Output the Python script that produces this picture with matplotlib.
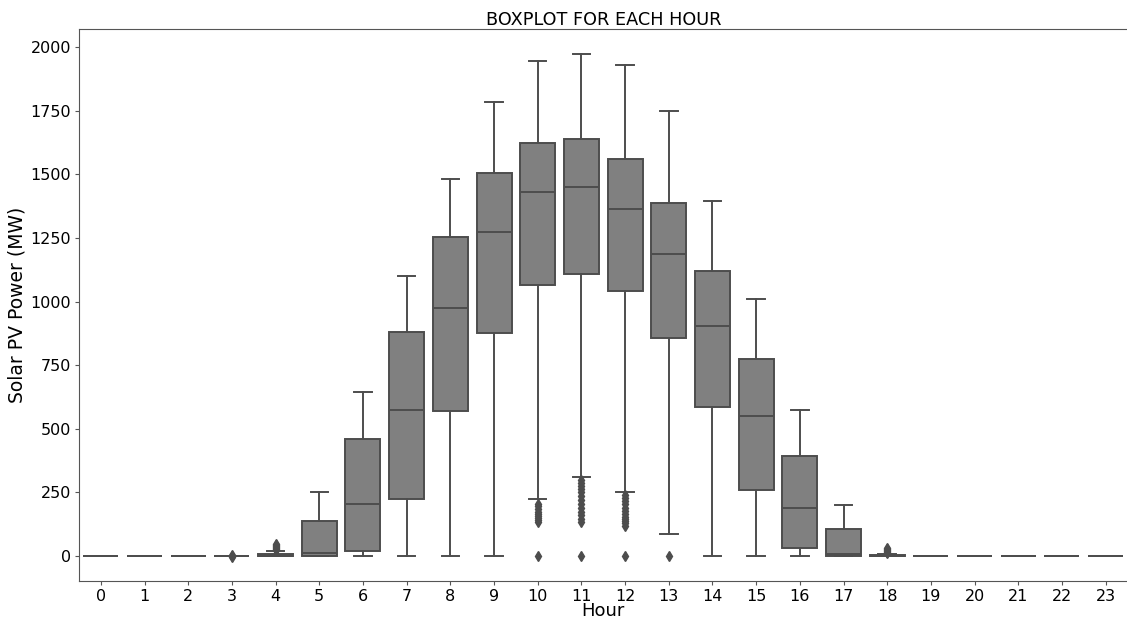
import matplotlib
matplotlib.use("Agg")
import matplotlib.pyplot as plt

hours = list(range(24))
q1 =      [0, 0, 0, 0, 0,   0,   18,  225, 570, 875,  1065, 1110, 1040, 855,  585,  260,  30,  0,   0, 0, 0, 0, 0, 0]
median =  [0, 0, 0, 0, 2,   12,  205, 575, 975, 1275, 1430, 1450, 1365, 1185, 905,  550,  190, 10,  2, 0, 0, 0, 0, 0]
q3 =      [0, 0, 0, 0, 8,   138, 460, 880, 1255, 1505, 1625, 1640, 1562, 1388, 1120, 775, 395, 106, 5, 0, 0, 0, 0, 0]
whis_lo = [0, 0, 0, 0, 0,   0,   0,   0,   0,   0,    224,  310,  251,  86,   0,    0,   0,   0,   0, 0, 0, 0, 0, 0]
whis_hi = [0, 0, 0, 0, 20,  250, 645, 1100, 1480, 1785, 1945, 1972, 1929, 1749, 1395, 1010, 574, 200, 10, 0, 0, 0, 0, 0]
fliers = {
    3: [-4, 0, 3],
    4: [22, 26, 30, 34, 38, 42, 46],
    10: [0, 135, 142, 150, 158, 166, 175, 185, 195, 205],
    11: [0, 135, 145, 160, 175, 190, 205, 220, 235, 250, 262, 275, 288, 300],
    12: [0, 120, 128, 136, 145, 155, 165, 178, 190, 203, 215, 228, 240],
    13: [0],
    18: [12, 16, 20, 24, 28, 32],
}

title = "BOXPLOT FOR EACH HOUR"
xlabel = "Hour"
ylabel = "Solar PV Power (MW)"

stats = []
for i, h in enumerate(hours):
    stats.append(dict(med=median[i], q1=q1[i], q3=q3[i],
                      whislo=whis_lo[i], whishi=whis_hi[i],
                      fliers=fliers.get(h, []), label=str(h)))

W, H = 1127, 620
fig = plt.figure(figsize=(W / 100, H / 100), dpi=100)
left, right, top, bottom = 79, 1127.5, 29, 581
ax = fig.add_axes([left / W, 1 - bottom / H, (right - left) / W, (bottom - top) / H])

line_c = "#4d4d4d"
lw = 1.4
ax.bxp(stats, positions=hours, widths=0.8, patch_artist=True,
       boxprops=dict(facecolor="#808080", edgecolor=line_c, linewidth=lw),
       medianprops=dict(color=line_c, linewidth=lw),
       whiskerprops=dict(color=line_c, linewidth=lw),
       capprops=dict(color=line_c, linewidth=lw),
       flierprops=dict(marker="d", markerfacecolor=line_c, markeredgecolor=line_c,
                       markersize=5, linestyle="none"))

ax.set_xlim(-0.5, 23.5)
ax.set_ylim(-98, 2071)
ax.set_yticks([0, 250, 500, 750, 1000, 1250, 1500, 1750, 2000])
ax.set_xticks(hours)
ax.set_xticklabels([str(h) for h in hours])
ax.tick_params(labelsize=11.5, color="#555555", length=3, pad=2.5)
ax.tick_params(axis="x", pad=3)
for s in ax.spines.values():
    s.set_color("#555555")
ax.set_title(title, fontsize=12.7, pad=3)
ax.set_xlabel(xlabel, fontsize=13, labelpad=-2)
ax.set_ylabel(ylabel, fontsize=13.5, labelpad=3)

fig.savefig("out.png", dpi=100)
